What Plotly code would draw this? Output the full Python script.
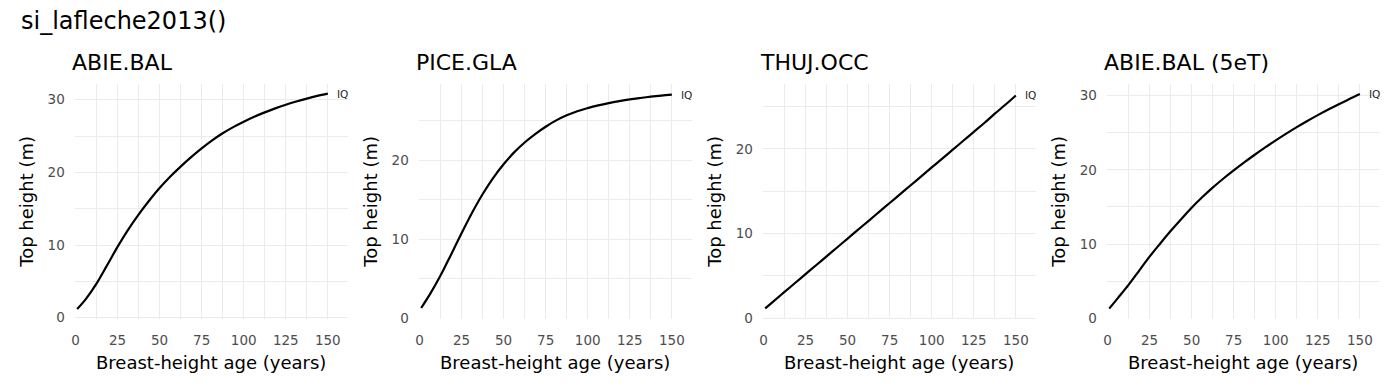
import plotly.graph_objects as go

# ---- data ----
ages = [1, 6.25, 12.5, 18.75, 25, 31.25, 37.5, 43.75, 50, 56.25, 62.5, 68.75, 75,
        81.25, 87.5, 93.75, 100, 106.25, 112.5, 118.75, 125, 131.25, 137.5, 143.75, 150]
panel_titles = ["ABIE.BAL", "PICE.GLA", "THUJ.OCC", "ABIE.BAL (5eT)"]
abie_bal = [1.2, 2.6, 4.7, 7.2, 9.75, 12.1, 14.2, 16.1, 17.85, 19.4, 20.8, 22.1, 23.3,
            24.4, 25.38, 26.23, 26.98, 27.66, 28.26, 28.81, 29.31, 29.76, 30.16, 30.52, 30.84]
pice_gla = [1.3, 3.05, 5.4, 8.05, 10.75, 13.35, 15.7, 17.75, 19.5, 21.0, 22.25, 23.32, 24.25,
            25.05, 25.69, 26.21, 26.61, 26.95, 27.24, 27.49, 27.71, 27.89, 28.05, 28.19, 28.31]
thuj_occ = [1.15, 2.05, 3.1, 4.15, 5.2, 6.25, 7.3, 8.35, 9.4, 10.45, 11.5, 12.55, 13.6,
            14.65, 15.7, 16.75, 17.8, 18.85, 19.9, 20.95, 22.0, 23.05, 24.15, 25.2, 26.3]
abie_bal_5et = [1.3, 2.75, 4.5, 6.4, 8.3, 10.05, 11.75, 13.35, 14.9, 16.3, 17.6, 18.8, 19.92,
                21.0, 22.03, 23.02, 23.97, 24.88, 25.75, 26.58, 27.37, 28.12, 28.84, 29.53, 30.2]
series = [abie_bal, pice_gla, thuj_occ, abie_bal_5et]
curve_label = "IQ"
x_ticks = [0, 25, 50, 75, 100, 125, 150]
y_ticks = [[0, 10, 20, 30], [0, 10, 20], [0, 10, 20], [0, 10, 20, 30]]
title = "si_lafleche2013()"
x_title = "Breast-height age (years)"
y_title = "Top height (m)"

# ---- layout geometry (pixels) ----
W, H = 1400, 392
panel_x = [(71, 345), (416, 690), (761, 1035), (1106, 1380)]
panel_top, panel_bottom = 86, 325
y_ranges = [[-0.2, 32.1], [-0.12, 29.6], [-0.12, 27.6], [-0.12, 31.5]]
x_range = [-0.4, 162]

FONT = "DejaVu Sans"
GRID = "#EBEBEB"
TICKC = "#4D4D4D"

fig = go.Figure()
layout = dict(
    width=W, height=H,
    margin=dict(l=0, r=0, t=0, b=0),
    paper_bgcolor="white", plot_bgcolor="white",
    showlegend=False,
    font=dict(family=FONT, color="black"),
)
annotations = []

for i, (vals, ptitle) in enumerate(zip(series, panel_titles)):
    n = "" if i == 0 else str(i + 1)
    xa, ya = "x" + n, "y" + n
    fig.add_trace(go.Scatter(
        x=ages, y=vals, mode="lines", xaxis=xa, yaxis=ya,
        line=dict(color="black", width=2.2, shape="spline", smoothing=1.0),
        hoverinfo="skip",
    ))
    x0, x1 = panel_x[i]
    layout["xaxis" + n] = dict(
        domain=[x0 / W, x1 / W], anchor=ya, range=x_range,
        tickvals=x_ticks, ticks="", showline=False, zeroline=False,
        showgrid=True, gridcolor=GRID, gridwidth=1.1,
        minor=dict(dtick=12.5, tick0=0, showgrid=True, gridcolor=GRID, gridwidth=0.6, ticks=""),
        tickfont=dict(size=13.5, color=TICKC, family=FONT),
        ticklabelstandoff=11,
    )
    layout["yaxis" + n] = dict(
        domain=[(H - panel_bottom) / H, (H - panel_top) / H], anchor=xa,
        range=y_ranges[i], tickvals=y_ticks[i], ticks="", showline=False,
        zeroline=False, showgrid=True, gridcolor=GRID, gridwidth=1.1,
        minor=dict(dtick=5, tick0=0, showgrid=True, gridcolor=GRID, gridwidth=0.6, ticks=""),
        tickfont=dict(size=13.5, color=TICKC, family=FONT),
        ticklabelstandoff=9,
    )
    # curve end label
    annotations.append(dict(
        x=ages[-1], y=vals[-1], xref=xa, yref=ya, text=curve_label,
        showarrow=False, xanchor="left", yanchor="middle", xshift=7,
        font=dict(size=10.5, color="#222222", family=FONT),
    ))
    # panel title
    annotations.append(dict(
        x=(x0 - 5) / W, y=(H - 64) / H, xref="paper", yref="paper",
        text=ptitle, showarrow=False, xanchor="left", yanchor="middle",
        font=dict(size=22, color="black", family=FONT),
    ))
    # x axis title
    annotations.append(dict(
        x=(x0 + x1) / 2 / W, y=(H - 369) / H, xref="paper", yref="paper",
        text=x_title, showarrow=False, xanchor="center", yanchor="middle",
        font=dict(size=18, color="black", family=FONT),
    ))
    # y axis title
    annotations.append(dict(
        x=(x0 - 48) / W, y=(H - (panel_top + panel_bottom) / 2) / H,
        xref="paper", yref="paper", text=y_title, showarrow=False,
        textangle=-90, xanchor="center", yanchor="middle",
        font=dict(size=18, color="black", family=FONT),
    ))

annotations.append(dict(
    x=15 / W, y=(H - 21) / H, xref="paper", yref="paper", text=title,
    showarrow=False, xanchor="left", yanchor="middle",
    font=dict(size=24, color="black", family=FONT),
))
layout["annotations"] = annotations
fig.update_layout(**layout)
fig.write_html(
    "out.html",
    config={"displayModeBar": False},
    post_script="document.body.style.margin='0px';document.body.style.overflow='hidden';",
)
